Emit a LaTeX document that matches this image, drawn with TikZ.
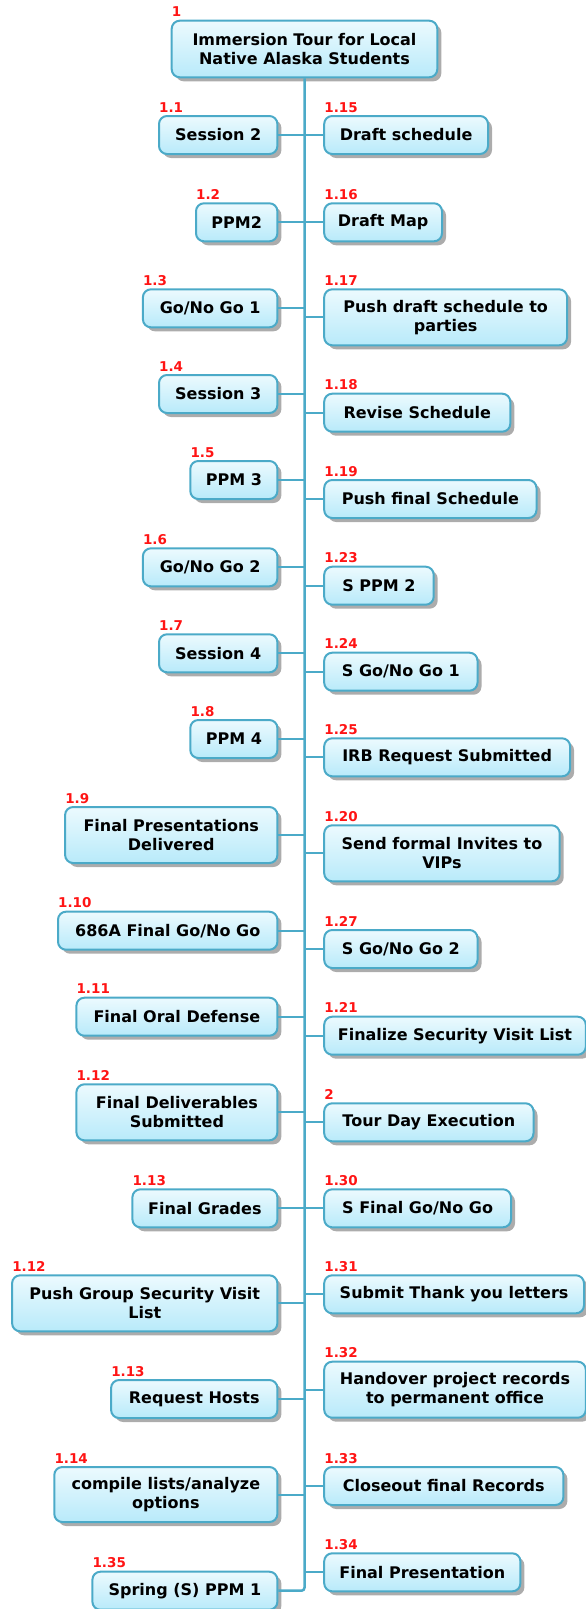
\documentclass[tikz,border=0pt]{standalone}
\usepackage{fontspec}
\setmainfont{DejaVu Sans}
\usetikzlibrary{shadows}

\definecolor{wbsblue}{RGB}{75,170,200}
\definecolor{boxtop}{RGB}{236,250,254}
\definecolor{boxbot}{RGB}{184,234,250}
\definecolor{wbsred}{RGB}{255,20,20}
\newcommand{\taskfont}{\fontsize{16}{18.7}\selectfont\bfseries}
\newcommand{\numfont}{\fontsize{13.5}{15}\selectfont\bfseries}

\begin{document}
\begin{tikzpicture}[x=1pt, y=-1pt, draw=wbsblue]
    \tikzstyle{task}=[rectangle, rounded corners=8pt, draw=wbsblue, line width=2pt, top color=boxtop, bottom color=boxbot, drop shadow={shadow xshift=4pt, shadow yshift=-4pt, fill=black!50, opacity=.65}, font=\taskfont, align=center, inner sep=0pt, minimum height=38pt]
    \tikzstyle{left task}=[task, anchor=north east]
    \tikzstyle{right task}=[task, anchor=north west]
    \tikzstyle{wbs number}=[font=\numfont, text=wbsred, anchor=base west, inner sep=0pt]
    \tikzstyle{branch}=[draw=wbsblue, line width=2pt]

    \useasboundingbox (0,0) rectangle (586,1609);

    % Draw the root node
    \node[task, minimum width=265.6pt, minimum height=56.6pt] (root) at (304.5,49) {Immersion Tour for Local\\Native Alaska Students};
    \node[wbs number] (root-no) at ([xshift=1pt,yshift=3pt]root.north west) {1};

    % Draw the left column nodes (name / number / top / width / height / text)
    \foreach \name/\num/\y/\w/\h/\txt in {
        1/1.1/115/118.4/38/{Session 2},
        2/1.2/202.3/81.4/38/{PPM2},
        3/1.3/288.3/134.5/38/{Go/No Go 1},
        4/1.4/374/118.4/38/{Session 3},
        5/1.5/460/87.1/38/{PPM 3},
        6/1.6/547.3/134.5/38/{Go/No Go 2},
        7/1.7/633.3/118.4/38/{Session 4},
        8/1.8/719/87.1/38/{PPM 4},
        9/1.9/806/212.3/56/{Final Presentations\\Delivered},
        10/1.10/910.7/219.4/38/{686A Final Go/No Go},
        11/1.11/996.7/201/38/{Final Oral Defense},
        12/1.12/1083.3/201/56/{Final Deliverables\\Submitted},
        13/1.13/1188.3/145/38/{Final Grades},
        14/1.12/1274.3/265.3/56/{Push Group Security Visit\\List},
        15/1.13/1379/166.3/38/{Request Hosts},
        16/1.14/1466/223.1/55/{compile lists/analyze\\options},
        17/1.35/1570.7/185/38/{Spring (S) PPM 1}}
    {
        \node[left task, minimum width=\w pt, minimum height=\h pt] (L-\name) at (278.4,\y) {\txt};
        \node[wbs number] (L-\name-no) at ([xshift=1pt,yshift=3pt]L-\name.north west) {\num};
    }

    % Draw the right column nodes
    \foreach \name/\num/\y/\w/\h/\txt in {
        1/1.15/115/163.8/38/{Draft schedule},
        2/1.16/202.3/117.8/38/{Draft Map},
        3/1.17/288.3/242.9/56/{Push draft schedule to\\parties},
        4/1.18/392.7/186.1/38/{Revise Schedule},
        5/1.19/479/212.3/38/{Push final Schedule},
        6/1.23/565.7/109.5/38/{S PPM 2},
        7/1.24/651.7/153.3/38/{S Go/No Go 1},
        8/1.25/737.3/245.9/38/{IRB Request Submitted},
        9/1.20/824.3/235.5/56/{Send formal Invites to\\VIPs},
        10/1.27/929/153.3/38/{S Go/No Go 2},
        11/1.21/1015.7/261.6/38/{Finalize Security Visit List},
        12/2/1102.3/209.3/38/{Tour Day Execution},
        13/1.30/1188.3/186.8/38/{S Final Go/No Go},
        14/1.31/1274.3/259.8/38/{Submit Thank you letters},
        15/1.32/1360.7/261.6/56/{Handover project records\\to permanent office},
        16/1.33/1466/239.2/38/{Closeout final Records},
        17/1.34/1552.3/196.2/38/{Final Presentation}}
    {
        \node[right task, minimum width=\w pt, minimum height=\h pt] (R-\name) at (323.2,\y) {\txt};
        \node[wbs number] (R-\name-no) at ([xshift=1pt,yshift=3pt]R-\name.north west) {\num};
    }

    % The trunk runs down from the root and turns into the last left box
    \draw[branch, line width=2.5pt, rounded corners=3pt] (root.south) -- (root.south |- L-17.east) -- (L-17.east);

    % Connect every box to the trunk
    \foreach \i in {1,...,16}
        \draw[branch] (L-\i.east) -- (L-\i.east -| root.south);
    \foreach \i in {1,...,17}
        \draw[branch] (R-\i.west -| root.south) -- (R-\i.west);
\end{tikzpicture}
\end{document}
